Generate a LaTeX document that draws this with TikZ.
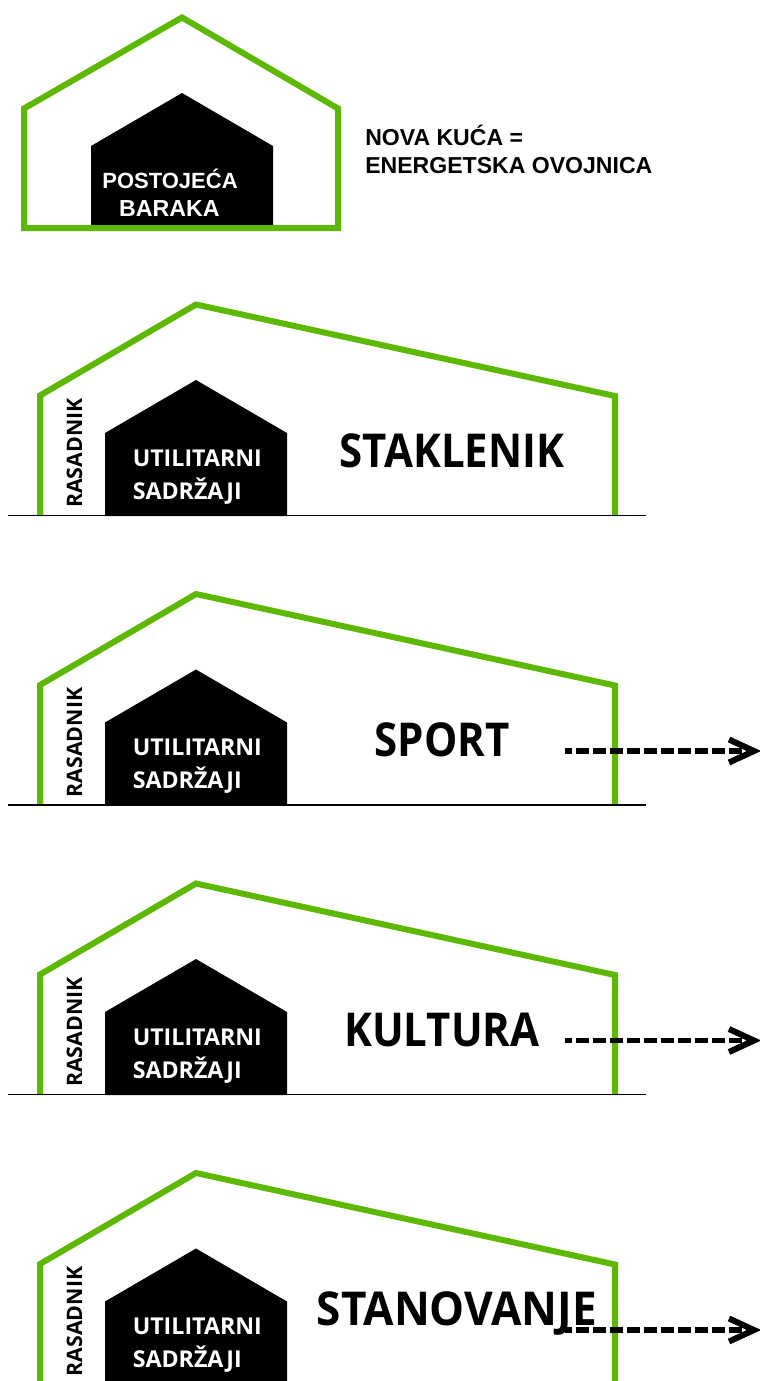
\documentclass[tikz,border=0pt]{standalone}
\usepackage{fontspec}
\setmainfont{Liberation Sans}
\newfontfamily\labfont{Open Sans}
\newfontfamily\bigfont[FakeStretch=0.9]{Open Sans}
\newfontfamily\widefont[FakeStretch=0.945]{Open Sans}
\definecolor{envgreen}{HTML}{5CB800}
\tikzset{
  x=0.75pt,y=-0.75pt,
  envelope/.style={draw=envgreen,line width=4.5pt,miter limit=10},
  shed/.style={fill=black,draw=none},
  ground/.style={draw=black,line width=1.4pt},
  headlab/.style={font=\bfseries\fontsize{17.3}{21}\selectfont,text=black,align=left,anchor=north west,inner sep=0pt},
  oldlab/.style={font=\bfseries\fontsize{16.5}{20}\selectfont,text=white,anchor=base,inner sep=0pt},
  oldlabwide/.style={oldlab,font=\bfseries\fontsize{17.4}{20}\selectfont},
  utillab/.style={font=\labfont\bfseries\fontsize{17.4}{21}\selectfont,text=white,anchor=base west,inner sep=0pt},
  sidelab/.style={font=\labfont\bfseries\fontsize{16}{19}\selectfont,text=black,rotate=90,anchor=base,inner sep=0pt},
  biglab/.style={font=\bigfont\bfseries\fontsize{35}{40}\selectfont,text=black,anchor=base,inner sep=0pt},
  biglabwide/.style={biglab,font=\widefont\bfseries\fontsize{35}{40}\selectfont},
  flow/.style={draw=black,line width=4pt,dash pattern=on 10pt off 2.75pt,dash phase=4.8pt},
  flowhead/.style={draw=black,line width=4.5pt,miter limit=10},
}
\newcommand{\panel}[2]{%
  \begin{scope}[yshift={-0.75pt*(#2)}]
    \path[shed] (105,516) -- (105,433) -- (196,380) -- (287,433) -- (287,516) -- cycle;
    \draw[envelope] (40,516) -- (40,395.5) -- (196,304.5) -- (615,396) -- (615,516);
    \draw[ground] (8,515.5) -- (646,515.5);
    \node[sidelab] (side#1) at (82,453) {RASADNIK};
    \node[utillab] (utila#1) at (132.5,466) {UTILITARNI};
    \node[utillab] (utilb#1) at (132.5,499) {SADRŽAJI};
  \end{scope}}
\newcommand{\flowarrow}[2]{%
  \coordinate (fs#1) at (565,#2);
  \coordinate (fe#1) at (752,#2);
  \coordinate (ba#1) at (729,#2-11.5);
  \coordinate (bb#1) at (729,#2+11.5);
  \coordinate (tp#1) at (754,#2);
  \draw[flow] (fs#1) -- (fe#1);
  \draw[flowhead] (ba#1) -- (tp#1) -- (bb#1);}
\begin{document}
\begin{tikzpicture}
\path[use as bounding box,fill=white] (0,0) rectangle (760,1381);
\clip (0,0) rectangle (760,1381);
% top house
\path[shed] (91,228) -- (91,146) -- (182,93) -- (273,146) -- (273,228) -- cycle;
\draw[envelope] (24,228) -- (24,108.5) -- (182,17.5) -- (338,108.5) -- (338,228) -- cycle;
\node[oldlab] (oldA) at (170,188.5) {POSTOJEĆA};
\node[oldlabwide] (oldB) at (169.5,216.5) {BARAKA};
\node[headlab] (head) at (365,125) {NOVA KUĆA =\\ENERGETSKA OVOJNICA};
% panels
\panel{a}{0}
\panel{b}{289.5}
\panel{c}{579}
\panel{d}{868.5}
\node[biglab] (tA) at (452,467) {STAKLENIK};
\node[biglab] (tB) at (442,756.5) {SPORT};
\node[biglab] (tC) at (442,1046) {KULTURA};
\node[biglabwide] (tD) at (457,1325) {STANOVANJE};
\flowarrow{b}{751}
\flowarrow{c}{1040.5}
\flowarrow{d}{1330}
\end{tikzpicture}
\end{document}
